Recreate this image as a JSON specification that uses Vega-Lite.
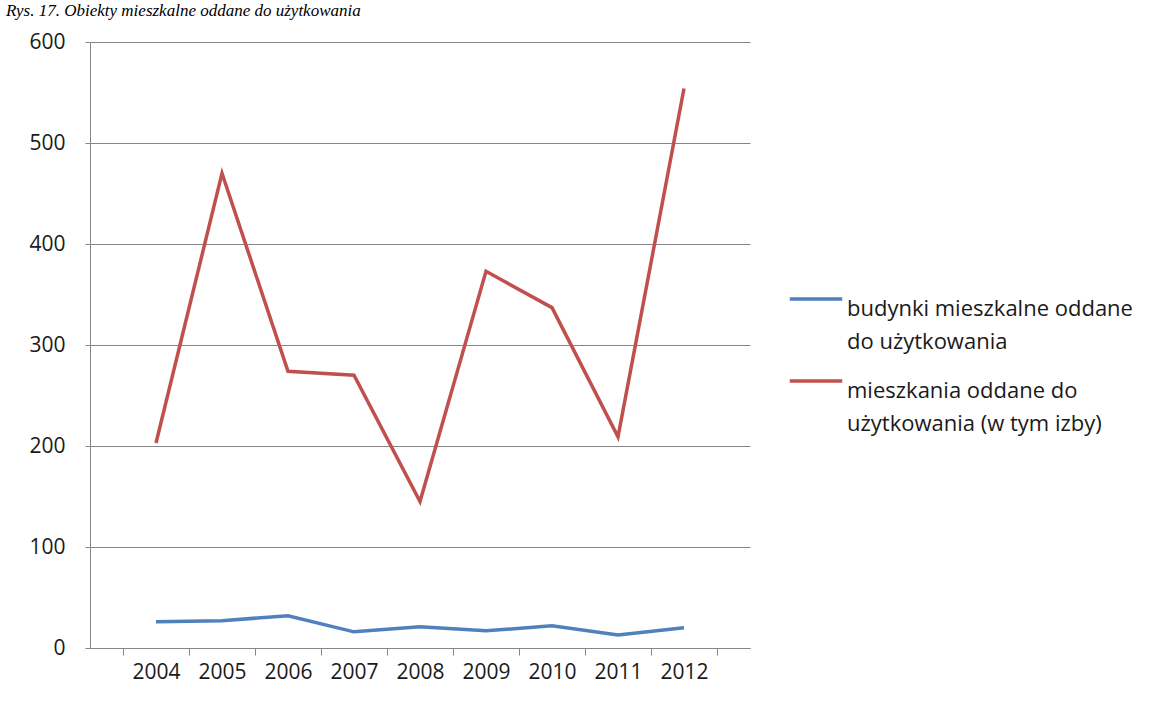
{
  "$schema": "https://vega.github.io/schema/vega-lite/v6.json",
  "autosize": {"type": "none"},
  "width": 660,
  "height": 606,
  "padding": {"left": 90, "top": 42, "right": 423, "bottom": 60},
  "background": "white",
  "title": {
    "text": "Rys. 17. Obiekty mieszkalne oddane do użytkowania",
    "font": "Liberation Serif",
    "fontStyle": "italic",
    "fontWeight": "normal",
    "fontSize": 17,
    "lineHeight": 17,
    "color": "#000000",
    "anchor": "start",
    "frame": "group",
    "dx": -84,
    "offset": 11
  },
  "data": {
    "values": [
      {"rok": "2004", "seria": "budynki mieszkalne oddane do użytkowania", "wartosc": 26},
      {"rok": "2005", "seria": "budynki mieszkalne oddane do użytkowania", "wartosc": 27},
      {"rok": "2006", "seria": "budynki mieszkalne oddane do użytkowania", "wartosc": 32},
      {"rok": "2007", "seria": "budynki mieszkalne oddane do użytkowania", "wartosc": 16},
      {"rok": "2008", "seria": "budynki mieszkalne oddane do użytkowania", "wartosc": 21},
      {"rok": "2009", "seria": "budynki mieszkalne oddane do użytkowania", "wartosc": 17},
      {"rok": "2010", "seria": "budynki mieszkalne oddane do użytkowania", "wartosc": 22},
      {"rok": "2011", "seria": "budynki mieszkalne oddane do użytkowania", "wartosc": 13},
      {"rok": "2012", "seria": "budynki mieszkalne oddane do użytkowania", "wartosc": 20},
      {"rok": "2004", "seria": "mieszkania oddane do użytkowania (w tym izby)", "wartosc": 203},
      {"rok": "2005", "seria": "mieszkania oddane do użytkowania (w tym izby)", "wartosc": 470},
      {"rok": "2006", "seria": "mieszkania oddane do użytkowania (w tym izby)", "wartosc": 274},
      {"rok": "2007", "seria": "mieszkania oddane do użytkowania (w tym izby)", "wartosc": 270},
      {"rok": "2008", "seria": "mieszkania oddane do użytkowania (w tym izby)", "wartosc": 145},
      {"rok": "2009", "seria": "mieszkania oddane do użytkowania (w tym izby)", "wartosc": 373},
      {"rok": "2010", "seria": "mieszkania oddane do użytkowania (w tym izby)", "wartosc": 337},
      {"rok": "2011", "seria": "mieszkania oddane do użytkowania (w tym izby)", "wartosc": 209},
      {"rok": "2012", "seria": "mieszkania oddane do użytkowania (w tym izby)", "wartosc": 554}
    ]
  },
  "mark": {"type": "line", "strokeWidth": 3.5, "strokeJoin": "miter"},
  "encoding": {
    "x": {
      "field": "rok",
      "type": "ordinal",
      "title": null,
      "scale": {"paddingInner": 0, "paddingOuter": 0.5},
      "axis": {
        "labelAngle": 0,
        "labelFont": "Open Sans",
        "labelFontSize": 21,
        "labelColor": "#1a1a1a",
        "labelPadding": 6,
        "tickBand": "extent",
        "tickSize": 7,
        "tickColor": "#868686",
        "domainColor": "#868686",
        "grid": false
      }
    },
    "y": {
      "field": "wartosc",
      "type": "quantitative",
      "title": null,
      "scale": {"domain": [0, 600], "nice": false},
      "axis": {
        "values": [0, 100, 200, 300, 400, 500, 600],
        "labelFont": "Open Sans",
        "labelFontSize": 21,
        "labelColor": "#1a1a1a",
        "labelPadding": 20,
        "tickSize": 5,
        "tickColor": "#868686",
        "domainColor": "#868686",
        "grid": true,
        "gridColor": "#868686",
        "gridWidth": 1
      }
    },
    "color": {
      "field": "seria",
      "type": "nominal",
      "title": null,
      "scale": {
        "domain": ["budynki mieszkalne oddane do użytkowania", "mieszkania oddane do użytkowania (w tym izby)"],
        "range": ["#4F81BD", "#C0504D"]
      },
      "legend": {
        "orient": "none",
        "legendX": 698,
        "legendY": 229,
        "symbolType": "stroke",
        "symbolSize": 2750,
        "symbolStrokeWidth": 3.5,
        "labelFont": "Open Sans",
        "labelFontSize": 22,
        "labelColor": "#1a1a1a",
        "labelOffset": 3,
        "labelLimit": 420,
        "labelBaseline": "top",
        "rowPadding": -10,
        "labelExpr": "datum.label == 'budynki mieszkalne oddane do użytkowania' ? ['budynki mieszkalne oddane', 'do użytkowania'] : ['mieszkania oddane do', 'użytkowania (w tym izby)']"
      }
    }
  },
  "config": {
    "view": {"stroke": null},
    "axis": {"domainWidth": 1, "tickWidth": 1},
    "style": {"guide-label": {"lineHeight": 33}}
  }
}
